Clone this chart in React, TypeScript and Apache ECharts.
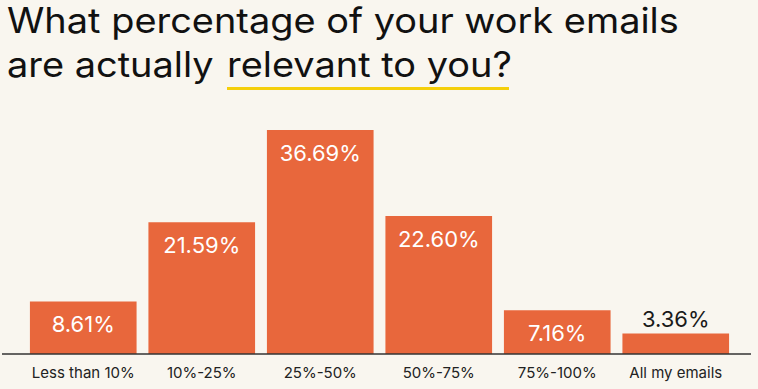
import React, { useEffect, useRef } from "react";
import * as echarts from "echarts";

const categories = ["Less than 10%", "10%-25%", "25%-50%", "50%-75%", "75%-100%", "All my emails"];
const values = [8.61, 21.59, 36.69, 22.6, 7.16, 3.36];
const valueLabels = ["8.61%", "21.59%", "36.69%", "22.60%", "7.16%", "3.36%"];
const titleLine1 = "What percentage of your work emails";
const titleLine2a = "are actually";
const titleLine2b = "relevant to you?";

const FONT = "Inter, 'DejaVu Sans', sans-serif";
const BAR = "#e8673c";
const BG = "#f9f6ef";
const TSCALE = 1.084;

export default function App() {
  const ref = useRef<HTMLDivElement>(null);
  useEffect(() => {
    if (!ref.current) return;
    const chart = echarts.init(ref.current, undefined, { renderer: "svg" });
    const data = values.map((v, i) => {
      const outside = i === values.length - 1;
      return {
        value: v,
        label: {
          show: true,
          formatter: valueLabels[i],
          position: outside ? "top" : "insideTop",
          distance: outside ? 3 : 12,
          color: outside ? "#1a1a1a" : "#ffffff",
          fontSize: 22,
          fontFamily: FONT,
        },
      };
    });
    const titleStyle = { fontSize: 35, fontFamily: FONT, fill: "#111111", verticalAlign: "middle" };
    chart.setOption({
      animation: false,
      backgroundColor: BG,
      grid: { left: 24, right: 23, top: 130, bottom: 35, containLabel: false },
      xAxis: {
        type: "category",
        data: categories,
        axisLine: { show: false },
        axisTick: { show: false },
        axisLabel: { color: "#222222", fontSize: 15, fontFamily: FONT, margin: 11, interval: 0 },
      },
      yAxis: {
        type: "value",
        min: 0,
        max: "dataMax",
        show: false,
        splitLine: { show: false },
      },
      series: [
        {
          type: "bar",
          data,
          barWidth: "90%",
          itemStyle: { color: BAR },
        },
      ],
      graphic: [
        {
          type: "line",
          shape: { x1: 2, y1: 354, x2: 751, y2: 354 },
          style: { stroke: "#333333", lineWidth: 1.5 },
          z: 10,
        },
        {
          type: "text",
          x: 7,
          y: 21,
          scaleX: TSCALE,
          style: { ...titleStyle, text: titleLine1 },
        },
        {
          type: "text",
          x: 7,
          y: 65,
          scaleX: TSCALE,
          style: { ...titleStyle, text: titleLine2a },
        },
        {
          type: "text",
          x: 227,
          y: 65,
          scaleX: TSCALE,
          style: { ...titleStyle, text: titleLine2b },
        },
        {
          type: "rect",
          shape: { x: 227, y: 87, width: 282, height: 3 },
          style: { fill: "#f5cf0a" },
        },
      ],
    });
    return () => chart.dispose();
  }, []);
  return <div ref={ref} style={{ width: 758, height: 389, position: "absolute", left: 0, top: 0 }} />;
}
